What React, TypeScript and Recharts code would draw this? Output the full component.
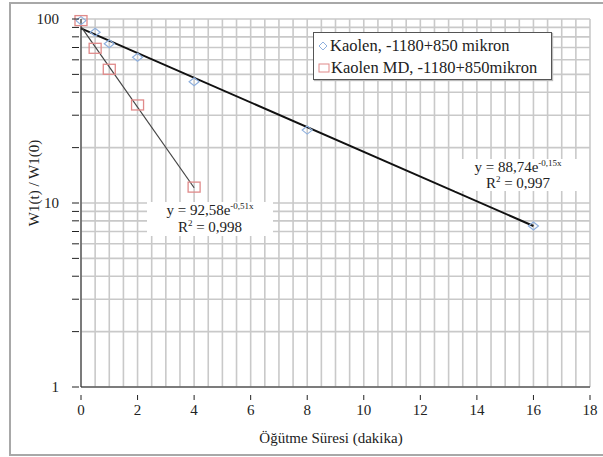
import React from 'react'
import {
  ComposedChart,
  Scatter,
  XAxis,
  YAxis,
  CartesianGrid,
} from 'recharts'

// measured points
const kaolen = [
  { x: 0, y: 98 },
  { x: 0.5, y: 84.7 },
  { x: 1, y: 73.4 },
  { x: 2, y: 61.9 },
  { x: 4, y: 45.6 },
  { x: 8, y: 24.9 },
  { x: 16, y: 7.5 },
]

const kaolenMD = [
  { x: 0, y: 98 },
  { x: 0.5, y: 69.3 },
  { x: 1, y: 53.3 },
  { x: 2, y: 34.1 },
  { x: 4, y: 12.2 },
]

// trend line end points (exponential fits, straight on log axis)
const kaolenFit = [
  { x: 0, y: 89 },
  { x: 16, y: 7.5 },
]

const kaolenMDFit = [
  { x: 0, y: 91 },
  { x: 4, y: 12.1 },
]

// grid every 0.5, labels every 2
const xTicks = [
  0, 0.5, 1, 1.5, 2, 2.5, 3, 3.5, 4, 4.5, 5, 5.5, 6, 6.5, 7, 7.5, 8, 8.5, 9,
  9.5, 10, 10.5, 11, 11.5, 12, 12.5, 13, 13.5, 14, 14.5, 15, 15.5, 16, 16.5,
  17, 17.5, 18,
]
const xLabels = [0, 2, 4, 6, 8, 10, 12, 14, 16, 18]
const yTicks = [
  1, 2, 3, 4, 5, 6, 7, 8, 9, 10, 20, 30, 40, 50, 60, 70, 80, 90, 100,
]
const yLabels = [1, 10, 100]

const serif = '"Liberation Serif", serif'
const gridColor = '#c9c9c9'

const Diamond = (props: any) => {
  const { cx, cy } = props
  if (cx == null || cy == null) return <g />
  return (
    <path
      d={`M${cx},${cy - 4} L${cx + 5},${cy} L${cx},${cy + 4} L${cx - 5},${cy} Z`}
      fill='none'
      stroke='#8fb0de'
      strokeWidth={1.2}
    />
  )
}

const Square = (props: any) => {
  const { cx, cy } = props
  if (cx == null || cy == null) return <g />
  return (
    <rect
      x={cx - 6}
      y={cy - 5}
      width={12}
      height={10}
      fill='none'
      stroke='#e08a8a'
      strokeWidth={1.3}
    />
  )
}

const XTick = (props: any) => {
  const { x, y, payload } = props
  if (!xLabels.includes(payload.value)) return <g />
  return (
    <g>
      <line x1={x} y1={y} x2={x} y2={y + 5} stroke='#222' />
      <text x={x} y={y + 20} textAnchor='middle' fill='#222' fontSize={15} fontFamily={serif}>
        {payload.value}
      </text>
    </g>
  )
}

const YTick = (props: any) => {
  const { x, y, payload } = props
  return (
    <g>
      <line x1={x - 1} y1={y} x2={x + 6} y2={y} stroke='#222' />
      {yLabels.includes(payload.value) && (
        <text x={x - 14} y={y + 5} textAnchor='end' fill='#222' fontSize={15} fontFamily={serif}>
          {payload.value}
        </text>
      )}
    </g>
  )
}

const NoDot = () => <g />

const sup = { fontSize: 9, verticalAlign: 6, lineHeight: 0 } as const

export default function App() {
  return (
    <div
      style={{
        position: 'absolute',
        left: 0,
        top: 0,
        width: 603,
        height: 457,
        overflow: 'hidden',
        fontFamily: serif,
        color: '#222',
      }}
    >
      <div
        style={{
          position: 'absolute',
          left: 9,
          top: 2,
          width: 592,
          height: 450,
          border: '2px solid #a8a8a8',
        }}
      />
      <ComposedChart
        width={603}
        height={457}
        data={kaolen}
        margin={{ top: 19, right: 13, bottom: 40, left: 21 }}
      >
        <CartesianGrid stroke={gridColor} strokeWidth={1.6} />
        <XAxis
          type='number'
          dataKey='x'
          domain={[0, 18]}
          ticks={xTicks}
          interval={0}
          height={30}
          tickLine={false}
          stroke='#222'
          tick={<XTick />}
        />
        <YAxis
          type='number'
          dataKey='y'
          scale='log'
          domain={[1, 100]}
          ticks={yTicks}
          interval={0}
          width={60}
          tickLine={false}
          stroke='#222'
          tick={<YTick />}
        />
        <Scatter
          data={kaolenFit}
          line={{ stroke: '#111', strokeWidth: 2 }}
          shape={NoDot}
          isAnimationActive={false}
        />
        <Scatter
          data={kaolenMDFit}
          line={{ stroke: '#444', strokeWidth: 1.2 }}
          shape={NoDot}
          isAnimationActive={false}
        />
        <Scatter data={kaolen} shape={Diamond} isAnimationActive={false} />
        <Scatter data={kaolenMD} shape={Square} isAnimationActive={false} />
      </ComposedChart>

      {/* legend */}
      <div
        style={{
          position: 'absolute',
          left: 313,
          top: 32,
          width: 239,
          height: 48,
          background: '#fff',
          border: '1px solid #555',
          boxShadow: '1px 1px 1px #bbb',
          fontSize: 16.5,
          lineHeight: '22px',
          paddingTop: 2,
          boxSizing: 'border-box',
          whiteSpace: 'nowrap',
        }}
      >
        <div style={{ display: 'flex', alignItems: 'center', paddingLeft: 4 }}>
          <svg width={10} height={10} style={{ marginRight: 2 }}>
            <path d='M5,1 L9,5 L5,9 L1,5 Z' fill='none' stroke='#8fb0de' />
          </svg>
          Kaolen, -1180+850 mikron
        </div>
        <div style={{ display: 'flex', alignItems: 'center', paddingLeft: 4 }}>
          <svg width={12} height={10} style={{ marginRight: 1 }}>
            <rect x={1} y={1} width={10} height={8} fill='none' stroke='#e08a8a' />
          </svg>
          Kaolen MD, -1180+850mikron
        </div>
      </div>

      {/* trend equations */}
      <div
        style={{
          position: 'absolute',
          left: 455,
          top: 159,
          width: 126,
          textAlign: 'center',
          fontSize: 15,
          lineHeight: '16px',
          background: '#fff',
        }}
      >
        <div>
          y = 88,74e<sup style={sup}>-0,15x</sup>
        </div>
        <div>
          R<sup style={sup}>2</sup> = 0,997
        </div>
      </div>
      <div
        style={{
          position: 'absolute',
          left: 147,
          top: 202,
          width: 126,
          textAlign: 'center',
          fontSize: 15,
          lineHeight: '17px',
          background: '#fff',
        }}
      >
        <div>
          y = 92,58e<sup style={sup}>-0,51x</sup>
        </div>
        <div>
          R<sup style={sup}>2</sup> = 0,998
        </div>
      </div>

      {/* axis titles */}
      <div
        style={{
          position: 'absolute',
          left: 34,
          top: 183,
          transform: 'translate(-50%, -50%) rotate(-90deg)',
          whiteSpace: 'nowrap',
          fontSize: 15,
        }}
      >
        W1(t) / W1(0)
      </div>
      <div
        style={{
          position: 'absolute',
          left: 331,
          top: 438,
          transform: 'translate(-50%, -50%)',
          whiteSpace: 'nowrap',
          fontSize: 15,
        }}
      >
        Öğütme Süresi (dakika)
      </div>
    </div>
  )
}
